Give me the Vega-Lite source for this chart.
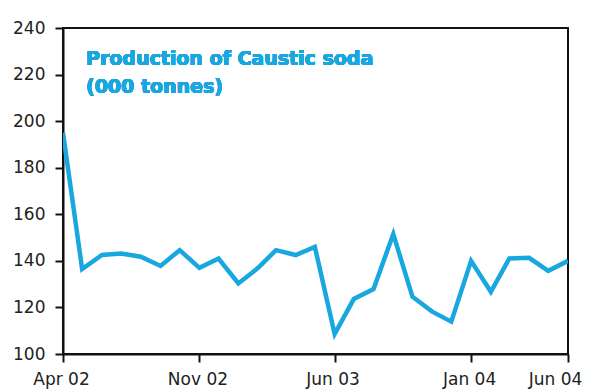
{
  "$schema": "https://vega.github.io/schema/vega-lite/v6.json",
  "width": 505,
  "height": 326,
  "autosize": {"type": "none"},
  "padding": {"left": 63, "top": 28, "right": 24, "bottom": 38},
  "background": "white",
  "config": {
    "view": {"stroke": "#111", "strokeWidth": 2},
    "font": "DejaVu Sans",
    "axis": {
      "grid": false,
      "domainColor": "#111",
      "domainWidth": 2,
      "tickColor": "#111",
      "tickWidth": 2,
      "tickSize": 8,
      "labelFont": "DejaVu Sans",
      "labelFontSize": 17,
      "labelColor": "#222",
      "title": null
    }
  },
  "data": {
    "values": [
      {"month": "2002-04-01", "value": 195},
      {"month": "2002-05-01", "value": 136.5},
      {"month": "2002-06-01", "value": 142.5},
      {"month": "2002-07-01", "value": 143.2},
      {"month": "2002-08-01", "value": 141.8},
      {"month": "2002-09-01", "value": 137.8},
      {"month": "2002-10-01", "value": 144.6},
      {"month": "2002-11-01", "value": 137},
      {"month": "2002-12-01", "value": 141},
      {"month": "2003-01-01", "value": 130.3},
      {"month": "2003-02-01", "value": 137},
      {"month": "2003-03-01", "value": 144.6},
      {"month": "2003-04-01", "value": 142.5},
      {"month": "2003-05-01", "value": 146},
      {"month": "2003-06-01", "value": 108.6},
      {"month": "2003-07-01", "value": 123.6},
      {"month": "2003-08-01", "value": 127.9},
      {"month": "2003-09-01", "value": 151.5},
      {"month": "2003-10-01", "value": 124.6},
      {"month": "2003-11-01", "value": 118.2},
      {"month": "2003-12-01", "value": 113.9},
      {"month": "2004-01-01", "value": 140},
      {"month": "2004-02-01", "value": 126.7},
      {"month": "2004-03-01", "value": 141},
      {"month": "2004-04-01", "value": 141.3},
      {"month": "2004-05-01", "value": 135.7},
      {"month": "2004-06-01", "value": 140}
    ]
  },
  "layer": [
    {
      "mark": {"type": "line", "color": "#19a7e0", "strokeWidth": 4.5, "strokeJoin": "miter", "clip": true},
      "encoding": {
        "x": {
          "field": "month",
          "type": "temporal",
          "scale": {"type": "utc", "domain": [{"year": 2002, "month": 4, "date": 1, "utc": true}, {"year": 2004, "month": 6, "date": 1, "utc": true}]},
          "axis": {
            "values": [
              {"year": 2002, "month": 4, "date": 1, "utc": true},
              {"year": 2002, "month": 11, "date": 1, "utc": true},
              {"year": 2003, "month": 6, "date": 1, "utc": true},
              {"year": 2004, "month": 1, "date": 1, "utc": true},
              {"year": 2004, "month": 6, "date": 1, "utc": true}
            ],
            "format": "%b %y",
            "labelPadding": 9,
            "labelFlush": false,
            "labelOverlap": false,
            "labelOffset": {"condition": {"test": "datum.label == 'Jun 04'", "value": -13}, "value": -2}
          }
        },
        "y": {
          "field": "value",
          "type": "quantitative",
          "scale": {"domain": [100, 240], "nice": false, "zero": false},
          "axis": {"values": [100, 120, 140, 160, 180, 200, 220, 240], "labelPadding": 10}
        }
      }
    },
    {
      "mark": {"type": "text", "align": "left", "baseline": "alphabetic", "fontWeight": "bold", "fontSize": 19, "font": "DejaVu Sans", "color": "#19a7e0", "lineHeight": 28},
      "encoding": {
        "x": {"datum": {"year": 2002, "month": 5, "date": 7, "utc": true}, "type": "temporal"},
        "y": {"datum": 224, "type": "quantitative"},
        "text": {"value": ["Production of Caustic soda", "(000 tonnes)"]}
      }
    }
  ]
}
